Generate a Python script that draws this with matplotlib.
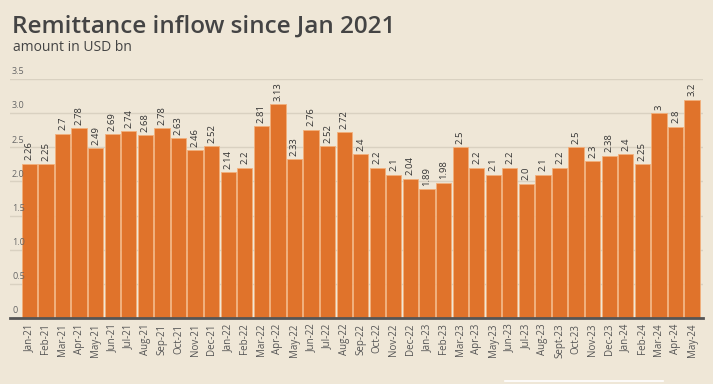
import matplotlib
matplotlib.use("Agg")
import matplotlib.pyplot as plt
import matplotlib.transforms as mtransforms
from matplotlib.lines import Line2D

months = ["Jan-21", "Feb-21", "Mar-21", "Apr-21", "May-21", "Jun-21", "Jul-21", "Aug-21",
          "Sep-21", "Oct-21", "Nov-21", "Dec-21",
          "Jan-22", "Feb-22", "Mar-22", "Apr-22", "May-22", "Jun-22", "Jul-22", "Aug-22",
          "Sep-22", "Oct-22", "Nov-22", "Dec-22",
          "Jan-23", "Feb-23", "Mar-23", "Apr-23", "May-23", "Jun-23", "Jul-23", "Aug-23",
          "Sept-23", "Oct-23", "Nov-23", "Dec-23",
          "Jan-24", "Feb-24", "Mar-24", "Apr-24", "May-24"]
values = [2.26, 2.25, 2.7, 2.78, 2.49, 2.69, 2.74, 2.68, 2.78, 2.63, 2.46, 2.52,
          2.14, 2.2, 2.81, 3.13, 2.33, 2.76, 2.52, 2.72, 2.4, 2.2, 2.1, 2.04,
          1.89, 1.98, 2.5, 2.2, 2.1, 2.2, 1.97, 2.1, 2.2, 2.5, 2.3, 2.38,
          2.4, 2.25, 3.0, 2.8, 3.2]
value_labels = ["2.26", "2.25", "2.7", "2.78", "2.49", "2.69", "2.74", "2.68", "2.78", "2.63",
                "2.46", "2.52", "2.14", "2.2", "2.81", "3.13", "2.33", "2.76", "2.52", "2.72",
                "2.4", "2.2", "2.1", "2.04", "1.89", "1.98", "2.5", "2.2", "2.1", "2.2",
                "2.0", "2.1", "2.2", "2.5", "2.3", "2.38", "2.4", "2.25", "3", "2.8", "3.2"]
y_ticks = [0, 0.5, 1.0, 1.5, 2.0, 2.5, 3.0, 3.5]
y_tick_labels = ["0", "0.5", "1.0", "1.5", "2.0", "2.5", "3.0", "3.5"]

bg = "#EFE7D7"
bar_color = "#E0732B"
plt.rcParams["font.family"] = ["Open Sans", "DejaVu Sans"]

fig = plt.figure(figsize=(7.13, 3.84), dpi=100, facecolor=bg)
ax = fig.add_axes([0.014, 0.172, 0.972, 0.622])
ax.set_facecolor(bg)

x = list(range(len(values)))
ax.bar(x, values, width=0.92, color=bar_color, edgecolor="#F2B07C", linewidth=0.6, zorder=3)

for xi, v, lab in zip(x, values, value_labels):
    ax.text(xi, v + 0.05, lab, rotation=90, ha="center", va="bottom",
            fontsize=6.8, color="#333333", zorder=4)

ax.set_xlim(-1.17, len(values) - 0.34)
ax.set_ylim(0, 3.5)

ax.set_yticks(y_ticks)
ax.set_yticklabels([])
ax.tick_params(axis="y", length=0)
ax.grid(axis="y", color="#D9D1C1", linewidth=1.0, zorder=0)

trans = mtransforms.blended_transform_factory(ax.transAxes, ax.transData)
for t, lab in zip(y_ticks, y_tick_labels):
    ax.text(0.003, t + 0.04, lab, transform=trans, ha="left", va="bottom",
            fontsize=6.5, color="#666666")

ax.set_xticks(x)
ax.set_xticklabels(months, rotation=90, fontsize=7, color="#555555")
ax.tick_params(axis="x", length=0, pad=4)

for side in ["top", "right", "left"]:
    ax.spines[side].set_visible(False)
ax.spines["bottom"].set_color("#555555")
ax.spines["bottom"].set_linewidth(2)
ax.spines["bottom"].set_zorder(5)

fig.text(0.017, 0.915, "Remittance inflow since Jan 2021", fontsize=17.5, color="#444444",
         fontweight="semibold", ha="left", va="baseline")
fig.text(0.018, 0.868, "amount in USD bn", fontsize=10, color="#444444",
         ha="left", va="baseline")

fig.add_artist(Line2D([505 / 713, 663 / 713], [3 / 384, 3 / 384], color="white", linewidth=1.2))

fig.savefig("out.png", dpi=100, facecolor=bg)
